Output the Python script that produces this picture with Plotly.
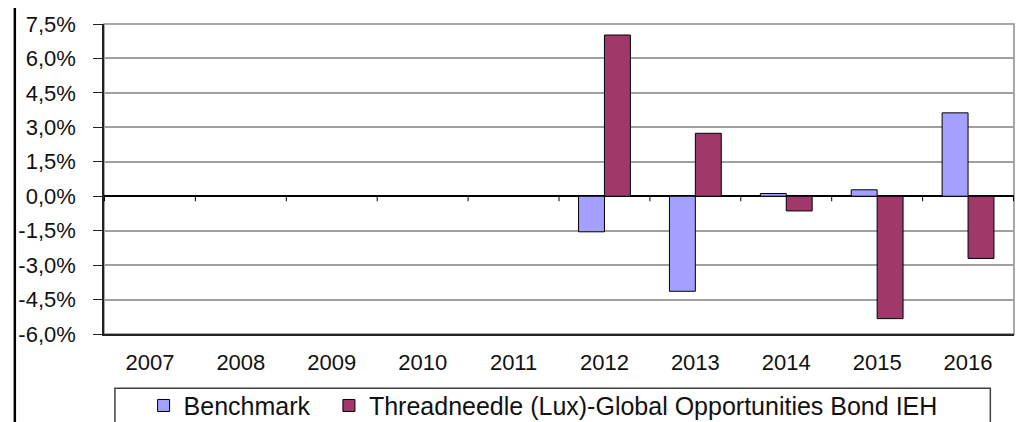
import plotly.graph_objs as go

years = ["2007", "2008", "2009", "2010", "2011", "2012", "2013", "2014", "2015", "2016"]
benchmark = [None, None, None, None, None, -1.55, -4.14, 0.12, 0.28, 3.63]
fund = [None, None, None, None, None, 7.02, 2.74, -0.64, -5.33, -2.71]
y_ticks = [-6.0, -4.5, -3.0, -1.5, 0.0, 1.5, 3.0, 4.5, 6.0, 7.5]

bench_name = "Benchmark\u00a0\u00a0"
fund_name = "Threadneedle (Lux)-Global Opportunities Bond IEH"

font_name = "Liberation Sans, Arial, sans-serif"
text_color = "#111111"

data = [
    go.Bar(
        x=years,
        y=benchmark,
        name=bench_name,
        marker=dict(color="#a4a0ff", line=dict(color="#000000", width=1)),
    ),
    go.Bar(
        x=years,
        y=fund,
        name=fund_name,
        marker=dict(color="#a0396a", line=dict(color="#000000", width=1)),
    ),
]

# excel style labels: comma decimal, plain hyphen
y_labels = ["{:.1f}%".format(v).replace(".", ",") for v in y_ticks]

# small ticks on the zero line between categories
shapes = []
for i in range(len(years) + 1):
    shapes.append(
        dict(type="line", xref="x", yref="y", x0=i - 0.5, x1=i - 0.5, y0=0, y1=-0.22,
             line=dict(color="#000000", width=1))
    )
# plot area border (top / right)
shapes.append(
    dict(type="rect", xref="paper", yref="paper", x0=0, x1=1, y0=0, y1=1,
         line=dict(color="#8c8c8c", width=1.5), layer="below")
)
# legend box
shapes.append(
    dict(type="rect", xref="paper", yref="paper", x0=0.012, x1=0.974, y0=-0.175, y1=-0.5,
         line=dict(color="#404040", width=1.5))
)
# chart outer border (left edge visible)
shapes.append(
    dict(type="line", xref="paper", yref="paper", x0=-0.098, x1=-0.098, y0=-0.5, y1=1.2,
         line=dict(color="#000000", width=2.5))
)

# page body adds an 8px offset, margins compensate for it
layout = go.Layout(
    width=1024,
    height=422,
    margin=dict(l=96, r=18, t=16, b=96, autoexpand=False),
    paper_bgcolor="white",
    plot_bgcolor="white",
    barmode="group",
    bargap=0.43,
    bargroupgap=0,
    font=dict(family=font_name, color=text_color, size=22),
    xaxis=dict(
        type="category",
        showgrid=False,
        showline=True,
        linecolor="#222222",
        linewidth=1.5,
        ticks="",
        ticklabelstandoff=8,
        tickfont=dict(size=22),
        automargin=False,
    ),
    yaxis=dict(
        range=[-6, 7.5],
        tickvals=y_ticks,
        ticktext=y_labels,
        showgrid=True,
        gridcolor="#a0a0a0",
        gridwidth=1.5,
        zeroline=True,
        zerolinecolor="#000000",
        zerolinewidth=1.5,
        showline=True,
        linecolor="#222222",
        linewidth=1.5,
        ticks="outside",
        ticklen=9,
        tickcolor="#222222",
        ticklabelstandoff=13,
        tickfont=dict(size=22),
        automargin=False,
    ),
    legend=dict(
        orientation="h",
        x=0.0435,
        xanchor="left",
        yref="container",
        y=0.003,
        yanchor="bottom",
        bgcolor="rgba(0,0,0,0)",
        borderwidth=0,
        font=dict(size=25),
        itemwidth=30,
    ),
    shapes=shapes,
)

fig = go.Figure(data=data, layout=layout)
fig.write_html("out.html")
